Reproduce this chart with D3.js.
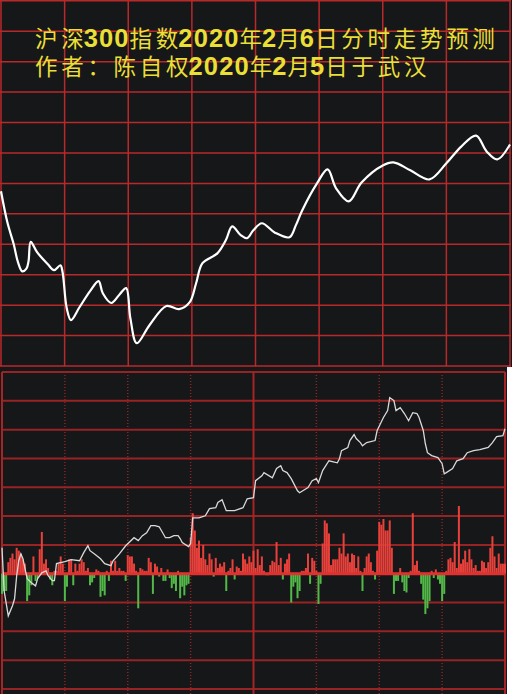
<!DOCTYPE html>
<html><head><meta charset="utf-8">
<script src="https://cdn.jsdelivr.net/npm/d3@7"></script>
<style>html,body{margin:0;padding:0;background:#fff;} svg{display:block}</style>
</head><body>
<svg id="c" width="512" height="694"></svg>
<script>
// ---------- data ----------
const titleLines = ["沪深300指数2020年2月6日分时走势预测", "作者：陈自权2020年2月5日于武汉"];

// grid values
const timeGridMinutes = [0, 30, 60, 90, 120, 150, 180, 210, 240];
const topGridValues = [3800, 3810, 3820, 3830, 3840, 3850, 3860, 3870, 3880, 3890, 3900, 3910, 3920];
const bottomGridValues = [3800, 3810, 3820, 3830, 3840, 3850, 3860, 3870, 3880, 3890, 3900, 3910];

// forecast curve (top panel): minute of session, index value
const forecastMinutes = [0, 3, 6, 8, 10, 12, 13, 14, 17, 22, 25, 28, 29, 31, 33, 37, 42, 46, 48, 52, 56, 59, 61, 64, 70, 78, 84, 89, 92, 95, 102, 106, 109, 113, 116, 119, 123, 129, 136, 139, 142, 149, 154, 158, 164, 170, 180, 185, 193, 202, 210, 217, 224, 229, 234, 240];
const forecastValues = [3857.4, 3847.2, 3840.0, 3834.1, 3831.1, 3832.0, 3834.5, 3840.8, 3837.4, 3833.5, 3831.5, 3833.1, 3831.0, 3819.0, 3815.1, 3819.3, 3824.6, 3827.9, 3823.9, 3820.7, 3823.6, 3825.6, 3815.7, 3807.5, 3813.4, 3819.7, 3818.7, 3821.0, 3827.2, 3833.8, 3837.0, 3841.3, 3845.9, 3843.0, 3842.0, 3844.6, 3846.9, 3843.9, 3842.3, 3846.2, 3851.1, 3860.0, 3864.6, 3858.4, 3854.1, 3860.3, 3865.9, 3866.9, 3864.3, 3861.3, 3866.6, 3872.1, 3875.7, 3870.5, 3867.9, 3872.8];

// actual intraday price (bottom panel)
const actualMinutes = [0, 1, 3, 5, 6, 7, 8, 9, 10, 11, 12, 14, 16, 17, 19, 21, 22, 24, 25, 26, 30, 33, 37, 39, 41, 42, 44, 47, 49, 52, 53, 56, 59, 63, 65, 67, 69, 71, 73, 75, 78, 80, 82, 84, 85, 86, 89, 90, 91, 94, 97, 99, 102, 103, 105, 107, 111, 115, 117, 120, 121, 124, 125, 129, 131, 133, 134, 136, 138, 141, 142, 146, 148, 150, 151, 153, 156, 160, 161, 162, 165, 166, 168, 169, 171, 172, 174, 178, 179, 182, 184, 185, 187, 188, 190, 192, 194, 196, 198, 199, 201, 202, 203, 205, 208, 210, 211, 212, 215, 217, 220, 222, 225, 228, 232, 234, 236, 239, 240];
const actualValues = [3849.0, 3834.1, 3825.4, 3828.9, 3831.3, 3839.3, 3844.5, 3846.9, 3845.2, 3841.7, 3838.3, 3836.9, 3835.8, 3838.3, 3840.3, 3841.0, 3839.3, 3837.6, 3837.6, 3843.5, 3844.2, 3844.9, 3844.5, 3847.3, 3849.7, 3848.0, 3846.9, 3845.2, 3843.5, 3842.8, 3844.5, 3846.9, 3849.7, 3852.5, 3851.5, 3853.2, 3854.2, 3856.7, 3856.7, 3856.3, 3852.5, 3852.5, 3853.2, 3853.2, 3852.2, 3850.8, 3849.4, 3850.4, 3859.4, 3859.4, 3860.1, 3862.6, 3862.9, 3864.7, 3865.7, 3861.9, 3861.9, 3862.9, 3866.0, 3866.4, 3872.3, 3874.0, 3875.1, 3873.3, 3876.5, 3877.5, 3875.8, 3875.1, 3873.0, 3868.8, 3868.1, 3869.9, 3872.3, 3873.0, 3871.6, 3875.8, 3879.2, 3878.5, 3879.9, 3882.7, 3883.8, 3886.2, 3888.3, 3886.9, 3885.5, 3884.4, 3885.5, 3886.2, 3889.7, 3894.2, 3896.6, 3901.1, 3900.1, 3896.6, 3897.6, 3895.6, 3893.1, 3895.9, 3895.6, 3894.2, 3889.7, 3885.1, 3882.0, 3881.0, 3880.3, 3878.2, 3874.7, 3875.1, 3876.5, 3879.2, 3879.9, 3882.0, 3882.7, 3883.1, 3883.8, 3885.5, 3887.6, 3887.9, 3890.3];

// per-minute flow bars (positive red, negative green)
const flowValues = [
  -7, -6, -6, 4, 5.5, 7, 5, 9, 8, 7,
  5, 3.5, -9.5, -7.5, -4, 6, -2.5, -1.5, 8.5, 14.5,
  3.5, 5, 2, -2, -4, 1, 1, 3.5, 6, 3.5,
  -9.5, -4.5, 5, 5, -4, 3.5, 1, 3.5, 5, 4,
  1, 2, -4, -3, -1.5, 1.5, 1, -8, -6, -7.5,
  1, -2.5, 4.5, 1, 4.5, 1, 2, 1, 1, -2.5,
  6.5, 6, 6, 3.5, 1, -12, 2, 1.5, 1, 1,
  5.5, 4, -7, 3.5, 2.5, -1, 2, -2.5, -2.5, 1.5,
  -1.5, -5, -3.5, -6, 1, -8.5, -4.5, -7.5, -4, -3.5,
  12.5, 21, 15, 9, 11.5, 5.5, 10, 5, 3, 7,
  5, -1, 5.5, 2, 3.5, 2.5, 4, -6, 1, 2,
  5, -2, 2.5, 2, 1, 7, 5, 3.5, 6, 4,
  8, 2, 8.5, 3, 6, 1, -0.5, -0.5, 3, 4.5,
  4, 11, 3, 5.5, -2, 3.5, 5, 7, -10, -4.5,
  -3, -8.5, -6, 1, 1, 2, 7, -3.5, 5.5, 4.5,
  1, -10.5, -3.5, 10.5, 18.5, 17.5, 14, 3, 5, 5,
  5, 9, 7, 14, 6, 7, 4, 7, 6.5, 2,
  6, 1, -6, 2, 6, 7, 4, 1, -2, 8,
  18, 17, 19, 15, 15, 18.5, 9, -7, -2.5, -2.5,
  2, -3, -6, -6.5, -1.5, 1, 21, 3, 4.5, 1,
  -3.5, -9, -14, -12, -9.5, 1, -1.5, 1.5, -2, -3.5,
  -9.5, -7, 1, 5, 5.5, 4, 11, 2, 23.5, 3.5,
  5, 8, 4, 8.5, 5, 2, 3, 1, 1, 4.5,
  4, 2, 4, 9, 13, 6, 2, 7, 3.5, 3.5, 3.5
];

// ---------- drawing ----------
const svg = d3.select("#c");
const BG = "#161719";

const xTop = d3.scaleLinear().domain([0, 240]).range([1, 510]);
const yTop = d3.scaleLinear().domain([3800, 3920]).range([366, 0.8]);
const xBot = d3.scaleLinear().domain([0, 240]).range([2, 505]);
const yBot = d3.scaleLinear().domain([3800, 3910]).range([689, 372]);
const yFlow = d3.scaleLinear().domain([-40, 70]).range([689, 372]);

// backgrounds
svg.append("rect").attr("x", 0).attr("y", 0).attr("width", 512).attr("height", 367).attr("fill", BG);
svg.append("rect").attr("x", 0).attr("y", 366).attr("width", 507).attr("height", 328).attr("fill", BG);

// top grid
const gTop = svg.append("g");
gTop.selectAll("line.h").data(topGridValues).join("line")
  .attr("x1", 0).attr("x2", 511)
  .attr("y1", d => yTop(d)).attr("y2", d => yTop(d))
  .attr("stroke", "#b8292a").attr("stroke-width", 1.5);
gTop.selectAll("line.v").data(timeGridMinutes).join("line")
  .attr("x1", d => xTop(d)).attr("x2", d => xTop(d))
  .attr("y1", 0).attr("y2", 366.5)
  .attr("stroke", "#b8292a").attr("stroke-width", 1.5);

// bottom grid
const gBot = svg.append("g");
gBot.selectAll("line").data(bottomGridValues).join("line")
  .attr("x1", xBot(0)).attr("x2", xBot(240))
  .attr("y1", d => yBot(d)).attr("y2", d => yBot(d))
  .attr("stroke", "#972324").attr("stroke-width", 2);
const gBotV = svg.append("g");
gBotV.selectAll("line").data(timeGridMinutes).join("line")
  .attr("x1", d => xBot(d)).attr("x2", d => xBot(d))
  .attr("y1", 372).attr("y2", 694)
  .attr("stroke", d => (d % 120 === 0) ? "#a42526" : "#8a2426")
  .attr("stroke-width", d => (d % 120 === 0) ? 2 : 1.5)
  .attr("stroke-dasharray", d => (d % 120 === 0) ? null : "1,2");

// flow bars
svg.append("g").selectAll("rect").data(flowValues).join("rect")
  .attr("x", (d, i) => xBot(i) - 1)
  .attr("width", 2)
  .attr("y", d => d >= 0 ? yFlow(d) : yFlow(0))
  .attr("height", d => Math.abs(yFlow(d) - yFlow(0)))
  .attr("fill", d => d >= 0 ? "#e8403a" : "#52b848");

// zero line
svg.append("line")
  .attr("x1", xBot(0)).attr("x2", xBot(240))
  .attr("y1", yFlow(0)).attr("y2", yFlow(0))
  .attr("stroke", "#e03030").attr("stroke-width", 3);

// actual price line
const actual = actualMinutes.map((m, i) => [m, actualValues[i]]);
svg.append("path").datum(actual)
  .attr("d", d3.line().x(d => xBot(d[0])).y(d => yBot(d[1])))
  .attr("fill", "none").attr("stroke", "#d9d9d9").attr("stroke-width", 1.3)
  .attr("stroke-linejoin", "miter");

// forecast line
const forecast = forecastMinutes.map((m, i) => [m, forecastValues[i]]);
svg.append("path").datum(forecast)
  .attr("d", d3.line().curve(d3.curveCatmullRom.alpha(0.5)).x(d => xTop(d[0])).y(d => yTop(d[1])))
  .attr("fill", "none").attr("stroke", "#ffffff").attr("stroke-width", 2.2)
  .attr("stroke-linejoin", "round");

// title text (one text element, two lines): digits bold and tight, CJK characters spaced
const titleBaselines = [46.5, 74.5];
const isDigit = c => /[0-9]/.test(c);
const title = svg.append("text")
  .attr("fill", "#e9df36")
  .attr("font-family", "'Liberation Sans', 'Noto Sans CJK SC', sans-serif");
titleLines.forEach((line, li) => {
  const chars = Array.from(line);
  chars.forEach((c, i) => {
    const next = chars[i + 1];
    const digit = isDigit(c);
    const ts = title.append("tspan").text(c)
      .attr("font-size", digit ? 25.5 : 22.5)
      .attr("font-weight", digit ? "bold" : "normal")
      .attr("font-family", digit ? "'Liberation Sans', Arial, sans-serif" : "'Noto Sans CJK SC', sans-serif")
      .attr("letter-spacing", digit ? 1.1 : ((next && !isDigit(next)) ? 3.7 : 0));
    if (i === 0) ts.attr("x", 35).attr("y", titleBaselines[li]);
  });
});
</script>
</body></html>
